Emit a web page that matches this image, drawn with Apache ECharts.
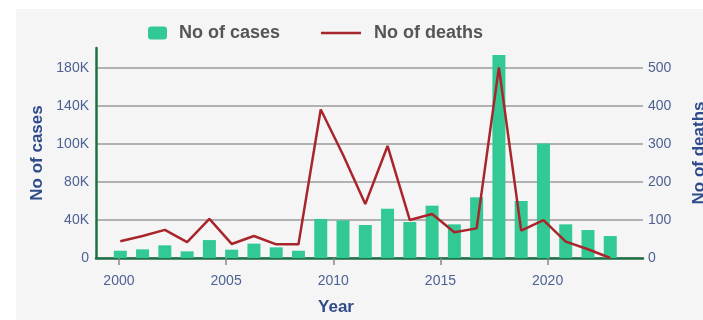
<!DOCTYPE html>
<html>
<head>
<meta charset="utf-8">
<script src="https://cdn.jsdelivr.net/npm/echarts@6/dist/echarts.min.js"></script>
<style>
  html, body { margin: 0; padding: 0; background: #fff; }
  #bg { position: absolute; left: 16px; top: 9px; width: 687px; height: 311px; background: #f5f5f5; }
  #chart { position: absolute; left: 0; top: 0; width: 703px; height: 320px; }
</style>
</head>
<body>
<div id="bg"></div>
<div id="chart"></div>
<script>
const years = [2000, 2001, 2002, 2003, 2004, 2005, 2006, 2007, 2008, 2009, 2010, 2011,
  2012, 2013, 2014, 2015, 2016, 2017, 2018, 2019, 2020, 2021, 2022]
const cases = [6900, 8200, 12000, 6300, 17000, 7900, 13600, 10100, 6900, 37000, 35700, 31300,
  46700, 34100, 49600, 31900, 57500, 192300, 54000, 108600, 31900, 26500, 20800]
const deaths = [44, 58, 74, 42, 103, 37, 58, 36, 36, 391, 272, 142,
  295, 100, 116, 68, 78, 502, 72, 100, 43, 23, 0]

const yearTicks = [2000, 2005, 2010, 2015, 2020]
const caseTicks = [0, 36000, 72000, 108000, 144000, 180000]
const caseTickLabels = ['0', '40K', '80K', '100K', '140K', '180K']
const deathTicks = [0, 100, 200, 300, 400, 500]

const font = 'Liberation Sans, Arial, sans-serif'
const labelColor = '#4e6194'
const nameColor = '#2f4b8a'
const axisGreen = '#1f6f46'
const lineRed = '#a8262b'

const chart = echarts.init(document.getElementById('chart'))

const legendText = { fontSize: 18, fontWeight: 'bold', color: '#555', fontFamily: font }

const option = {
  backgroundColor: 'transparent',
  textStyle: { fontFamily: font },
  animation: false,
  legend: [
    {
      data: ['No of cases'],
      left: 148,
      top: 24,
      padding: 0,
      itemWidth: 19,
      itemHeight: 13,
      textStyle: { ...legendText, padding: [0, 0, 0, 7] }
    },
    {
      data: [{ name: 'No of deaths', icon: 'rect', itemStyle: { color: lineRed } }],
      left: 321,
      top: 24,
      padding: 0,
      itemWidth: 40,
      itemHeight: 2.5,
      textStyle: { ...legendText, padding: [0, 0, 0, 8] }
    }
  ],
  grid: { left: 96, right: 60, top: 48, bottom: 62, outerBoundsMode: 'none' },
  xAxis: [
    {
      type: 'value',
      min: 1998.93,
      max: 2024.45,
      name: 'Year',
      nameLocation: 'middle',
      nameGap: 41,
      nameTextStyle: { fontSize: 17, fontWeight: 'bold', color: nameColor, padding: [0, 67, 0, 0] },
      axisLine: { show: true, lineStyle: { color: axisGreen, width: 2.5 } },
      axisTick: { show: true, length: 7, customValues: yearTicks, lineStyle: { color: '#888', width: 1.5 } },
      axisLabel: { customValues: yearTicks, fontSize: 14, color: labelColor, margin: 16, formatter: v => String(v) },
      splitLine: { show: false }
    },
    {
      type: 'value',
      show: false,
      min: 1998.909,
      max: 2023.47
    }
  ],
  yAxis: [
    {
      type: 'value',
      min: 0,
      max: 199000,
      name: 'No of cases',
      nameLocation: 'middle',
      nameGap: 50,
      nameRotate: 90,
      nameTextStyle: { fontSize: 17, fontWeight: 'bold', color: nameColor },
      axisLine: { show: true, lineStyle: { color: axisGreen, width: 2.5 } },
      axisTick: { show: false, customValues: caseTicks },
      axisLabel: {
        customValues: caseTicks,
        fontSize: 14,
        color: labelColor,
        margin: 7,
        formatter: v => caseTickLabels[caseTicks.indexOf(v)]
      },
      splitLine: { show: true, lineStyle: { color: '#9a9a9a', width: 1.5 } }
    },
    {
      type: 'value',
      min: 0,
      max: 553,
      position: 'right',
      name: 'No of deaths',
      nameLocation: 'middle',
      nameGap: 48,
      nameRotate: 90,
      nameTextStyle: { fontSize: 17, fontWeight: 'bold', color: nameColor },
      axisLine: { show: false },
      axisTick: { show: false, customValues: deathTicks },
      axisLabel: { customValues: deathTicks, fontSize: 14, color: labelColor, margin: 5 },
      splitLine: { show: false }
    }
  ],
  series: [
    {
      name: 'No of cases',
      type: 'bar',
      xAxisIndex: 1,
      yAxisIndex: 0,
      barWidth: 13,
      itemStyle: { color: '#33c995' },
      data: years.map((y, i) => [y, cases[i]])
    },
    {
      name: 'No of deaths',
      type: 'line',
      xAxisIndex: 1,
      yAxisIndex: 1,
      symbol: 'none',
      lineStyle: { color: lineRed, width: 2.5 },
      itemStyle: { color: lineRed },
      data: years.map((y, i) => [y, deaths[i]])
    }
  ]
}

chart.setOption(option)
</script>
</body>
</html>
